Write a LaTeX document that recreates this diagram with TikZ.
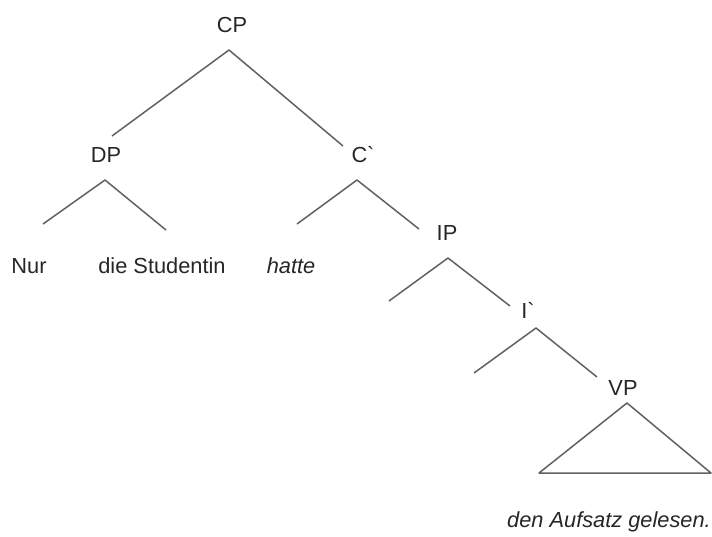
\documentclass[tikz,border=0pt]{standalone}
\usepackage{fontspec}
\setmainfont{Liberation Sans}
\usetikzlibrary{positioning}

\begin{document}
\begin{tikzpicture}[x=1pt,y=-1pt,every node/.style={inner sep=0pt,text=black!85,font=\fontsize{21.8}{24}\selectfont},branch/.style={draw=black!62,line width=1.5pt,line join=round}]
        \useasboundingbox (0,0) rectangle (712,536);
        % category labels
        \node (cp) at (232,25) {CP};
        \node (dp) at (106,155) {DP};
        \node (cbar) at (363,155) {C\textasciigrave};
        \node (ip) at (447,233) {IP};
        \node (ibar) at (528,310) {I\textasciigrave};
        \node (vp) at (623,388) {VP};
        % words
        \node (nur) at (29,266) {Nur};
        \node (student) at (162,266) {die Studentin};
        \node (hatte) at (291,266) {\itshape hatte};
        \node (rest) at (609,522) {\itshape den Aufsatz gelesen.};
        % branch points
        \coordinate (cptop) at (229,50);
        \coordinate (cpl) at (112,136);
        \coordinate (cpr) at (343,146);
        \coordinate (dptop) at (105,180);
        \coordinate (dpl) at (43,224);
        \coordinate (dpr) at (166,230);
        \coordinate (cbartop) at (357,180);
        \coordinate (cbarl) at (297,224);
        \coordinate (cbarr) at (419,229);
        \coordinate (iptop) at (448,258);
        \coordinate (ipl) at (389,301);
        \coordinate (ipr) at (510,306);
        \coordinate (ibartop) at (536,328);
        \coordinate (ibarl) at (474,373);
        \coordinate (ibarr) at (597,377);
        \coordinate (vptop) at (627,403);
        \coordinate (vpl) at (539,473);
        \coordinate (vpr) at (711,473);
        % branches
        \draw[branch] (cpl) -- (cptop) -- (cpr);
        \draw[branch] (dpl) -- (dptop) -- (dpr);
        \draw[branch] (cbarl) -- (cbartop) -- (cbarr);
        \draw[branch] (ipl) -- (iptop) -- (ipr);
        \draw[branch] (ibarl) -- (ibartop) -- (ibarr);
        \draw[branch] (vptop) -- (vpl) -- (vpr) -- cycle;
    \end{tikzpicture}
\end{document}
